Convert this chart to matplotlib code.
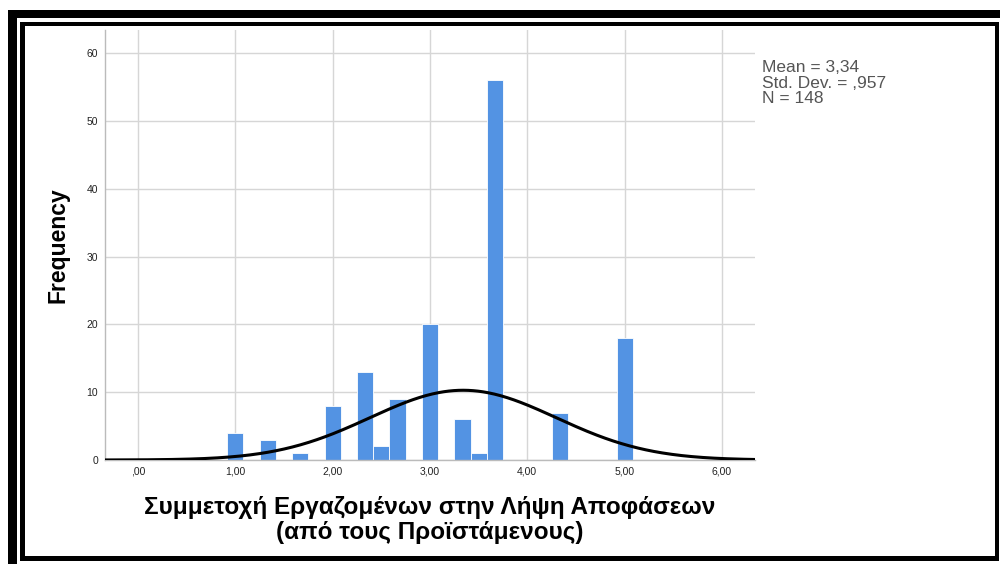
import numpy as np
import matplotlib
matplotlib.use('Agg')
import matplotlib.pyplot as plt
from matplotlib.patches import Rectangle

# scale scores (mean of items) and how many respondents got each
values = [1.0, 4/3, 5/3, 2.0, 7/3, 2.5, 8/3, 3.0, 10/3, 3.5, 11/3, 13/3, 5.0]
counts = [4, 3, 1, 8, 13, 2, 9, 20, 6, 1, 56, 7, 18]
mean = 3.34
std = 0.957
n = 148
bin_width = 1 / 6
xticks = [0, 1, 2, 3, 4, 5, 6]
xtick_labels = [',00', '1,00', '2,00', '3,00', '4,00', '5,00', '6,00']
yticks = [0, 10, 20, 30, 40, 50, 60]

plt.rcParams['font.family'] = ['Liberation Sans', 'DejaVu Sans']

W, H = 1000, 564
fig = plt.figure(figsize=(W / 100, H / 100), dpi=100)

def px_rect(x0, y0, x1, y1):
    # rectangle given in pixel coords (origin top-left) -> figure fraction
    return Rectangle((x0 / W, 1 - y1 / H), (x1 - x0) / W, (y1 - y0) / H,
                     transform=fig.transFigure, facecolor='black',
                     edgecolor='none', zorder=10)

# double black frame round the chart
for r in [(8, 10, 1000, 18), (8, 10, 17, 564),
          (20, 22, 999, 26), (20, 22, 25, 561),
          (995, 22, 999, 561), (20, 556, 999, 561)]:
    fig.patches.append(px_rect(*r))

ax = fig.add_axes([105 / W, 1 - 460 / H, 650 / W, 430 / H])

ax.bar(values, counts, width=bin_width, color='#5393E3',
       edgecolor='white', linewidth=0.6, zorder=2)

# normal curve scaled to counts per bin
xs = np.linspace(-0.34, 6.34, 400)
curve = n * bin_width * np.exp(-0.5 * ((xs - mean) / std) ** 2) / (std * np.sqrt(2 * np.pi))
ax.plot(xs, curve, color='black', linewidth=2.2, zorder=3)

ax.set_xlim(-0.34, 6.34)
ax.set_ylim(0, 63.4)
ax.set_xticks(xticks)
ax.set_xticklabels(xtick_labels)
ax.set_yticks(yticks)
ax.tick_params(length=0, labelsize=7.5, colors='#222222', pad=5)
ax.grid(True, color='#d6d6d6', linewidth=1, zorder=0)
ax.set_axisbelow(True)
for side in ['top', 'right']:
    ax.spines[side].set_visible(False)
for side in ['left', 'bottom']:
    ax.spines[side].set_color('#bbbbbb')
    ax.spines[side].set_linewidth(1)

ax.set_ylabel('Frequency', fontsize=16.5, fontweight='bold', labelpad=12)
ax.set_xlabel('Συμμετοχή Εργαζομένων στην Λήψη Αποφάσεων\n(από τους Προϊστάμενους)',
              fontsize=17.5, fontweight='bold', labelpad=14, linespacing=1.08)

stats = f'Mean = {mean:.2f}\nStd. Dev. = {std:.3f}\nN = {n}'
stats = stats.replace('0.', '.').replace('.', ',').replace('Dev,', 'Dev.').replace('Std,', 'Std.')
fig.text(762 / W, 1 - 60 / H, stats,
         fontsize=12.5, color='#555555', va='top', ha='left', linespacing=1.05)

fig.savefig('out.png', dpi=100)
